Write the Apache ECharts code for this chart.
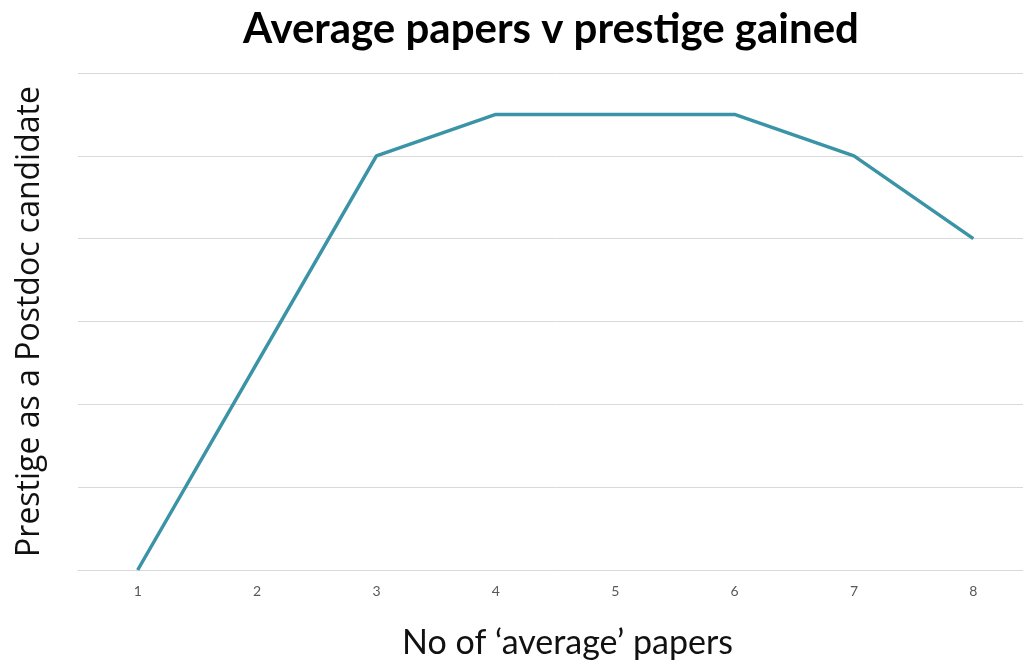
<!DOCTYPE html>
<html>
<head>
<meta charset="utf-8">
<script src="https://cdn.jsdelivr.net/npm/echarts@6/dist/echarts.min.js"></script>
<style>
  html, body { margin: 0; padding: 0; background: #ffffff; overflow: hidden; }
  /* the plot runs a little past the right edge of the window, as in the source */
  #chart { width: 1033px; height: 668px; }
</style>
</head>
<body>
<div id="chart"></div>
<script>
// papers count on x, prestige on y
const papers = ['1', '2', '3', '4', '5', '6', '7', '8'];
const prestige = [0, 2.5, 5, 5.5, 5.5, 5.5, 5, 4];

const lineColor = '#3a93a6';
const gridColor = '#d9d9d9';

const chart = echarts.init(document.getElementById('chart'));

chart.setOption({
  backgroundColor: '#ffffff',
  animation: false,
  title: {
    text: 'Average papers v prestige gained',
    left: 238,
    top: 3,
    textStyle: {
      fontFamily: 'Lato',
      fontWeight: 'bold',
      fontSize: 42,
      color: '#000000',
    },
  },
  grid: {
    left: 78,
    right: 0,
    top: 73,
    bottom: 98,
  },
  xAxis: {
    type: 'category',
    data: papers,
    boundaryGap: true,
    name: 'No of \u2018average\u2019 papers',
    nameLocation: 'middle',
    nameGap: 56,
    nameTextStyle: {
      fontFamily: 'Lato',
      fontSize: 34,
      color: '#111111',
      padding: [0, 0, 0, 24],
    },
    axisLine: { lineStyle: { color: gridColor, width: 1 } },
    axisTick: { show: false },
    axisLabel: {
      margin: 14,
      fontFamily: 'Lato',
      fontSize: 14,
      color: '#595959',
    },
  },
  yAxis: {
    type: 'value',
    min: 0,
    max: 6,
    interval: 1,
    name: 'Prestige as a Postdoc candidate',
    nameLocation: 'middle',
    nameGap: 32,
    nameTextStyle: {
      fontFamily: 'Open Sans',
      fontSize: 32,
      color: '#111111',
    },
    axisLine: { show: false },
    axisTick: { show: false },
    axisLabel: { show: false },
    splitLine: { lineStyle: { color: gridColor, width: 1 } },
  },
  series: [
    {
      type: 'line',
      data: prestige,
      symbol: 'none',
      lineStyle: { color: lineColor, width: 3.5 },
    },
  ],
});
</script>
</body>
</html>
